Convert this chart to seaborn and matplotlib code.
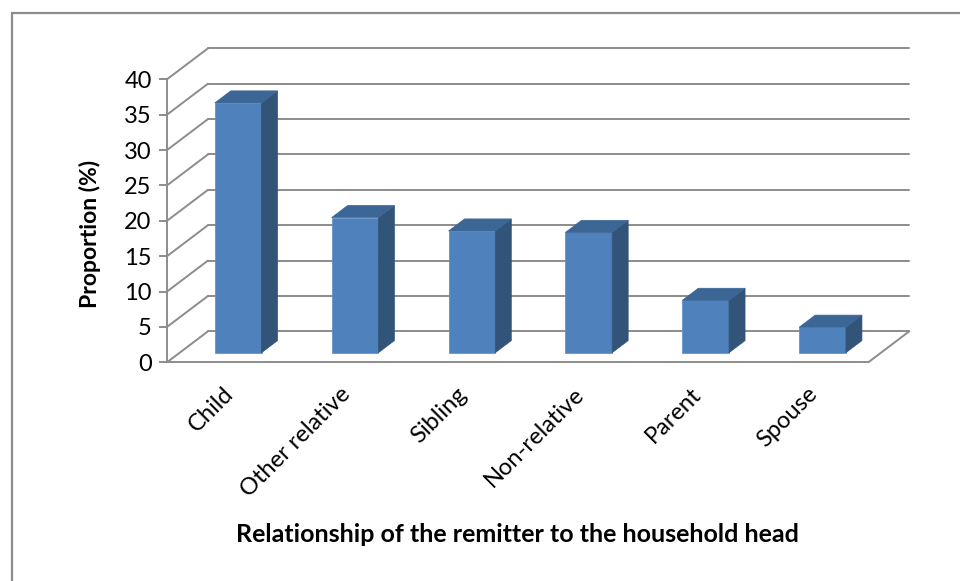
import matplotlib
matplotlib.use("Agg")
import matplotlib.pyplot as plt
import seaborn as sns
import pandas as pd
from matplotlib.patches import Polygon
from matplotlib.transforms import ScaledTranslation
from matplotlib.lines import Line2D

categories = ["Child", "Other relative", "Sibling", "Non-relative", "Parent", "Spouse"]
values = [35.3, 19.1, 17.2, 17.0, 7.4, 3.6]
y_ticks = [0, 5, 10, 15, 20, 25, 30, 35, 40]
x_title = "Relationship of the remitter to the household head"
y_title = "Proportion (%)"

sns.set_theme(style="white")
plt.rcParams['font.family'] = ['Lato', 'DejaVu Sans']

W, H = 960, 581
fig = plt.figure(figsize=(W / 100, H / 100), dpi=100)
fig.patch.set_facecolor("white")

# front plane of the 3D box (pixels)
x_left, x_right = 167.0, 868.3
y_zero, y_top = 362.3, 79.3
ax = fig.add_axes([x_left / W, 1 - y_zero / H, (x_right - x_left) / W, (y_zero - y_top) / H])
ax.set_facecolor("none")

df = pd.DataFrame({"cat": categories, "val": values})
sns.barplot(data=df, x="cat", y="val", color="#4F81BD", width=0.40,
            saturation=1, ax=ax, zorder=3, edgecolor="#5A8AC6", linewidth=0.5)
ax.set_xlim(-0.5, len(categories) - 0.5)
ax.set_ylim(y_ticks[0], y_ticks[-1])

# depth vector in data units
px_per_cat = (x_right - x_left) / len(categories)
px_per_val = (y_zero - y_top) / (y_ticks[-1] - y_ticks[0])
DX = 41.0 / px_per_cat
DY = 31.0 / px_per_val

grid_c = "#8C8C8C"
glw = 1.4
x0, x1 = ax.get_xlim()
for t in y_ticks:
    # back wall gridline
    ax.plot([x0 + DX, x1 + DX], [t + DY, t + DY], color=grid_c, lw=glw, clip_on=False, zorder=1)
    # left side wall gridline
    ax.plot([x0, x0 + DX], [t, t + DY], color=grid_c, lw=glw, clip_on=False, zorder=1)
# floor right edge
ax.plot([x1, x1 + DX], [0, DY], color=grid_c, lw=glw, clip_on=False, zorder=1)

# 3D bars: move the front face to its depth and add side and top faces
f_front = 0.31
f_depth = 0.39
side_c = "#335479"
top_c = "#3C6696"
for p in ax.patches:
    p.set_x(p.get_x() + f_front * DX)
    p.set_y(p.get_y() + f_front * DY)
    bx0 = p.get_x()
    bx1 = bx0 + p.get_width()
    by0 = p.get_y()
    by1 = by0 + p.get_height()
    ddx, ddy = f_depth * DX, f_depth * DY
    side = Polygon([(bx1, by0), (bx1 + ddx, by0 + ddy), (bx1 + ddx, by1 + ddy), (bx1, by1)],
                   closed=True, facecolor=side_c, edgecolor=side_c, lw=0.5, zorder=3, clip_on=False)
    top = Polygon([(bx0, by1), (bx1, by1), (bx1 + ddx, by1 + ddy), (bx0 + ddx, by1 + ddy)],
                  closed=True, facecolor=top_c, edgecolor=top_c, lw=0.5, zorder=3, clip_on=False)
    ax.add_patch(side)
    ax.add_patch(top)
    p.set_clip_on(False)

for s in ["top", "right"]:
    ax.spines[s].set_visible(False)
for s in ["left", "bottom"]:
    ax.spines[s].set_visible(True)
    ax.spines[s].set_color(grid_c)
    ax.spines[s].set_linewidth(glw)
    ax.spines[s].set_zorder(2)

ax.set_yticks(y_ticks)
ax.set_yticklabels([str(t) for t in y_ticks])
ax.tick_params(axis="y", left=True, length=6, width=glw, color=grid_c, pad=5,
               labelsize=17, labelcolor="black")
ax.tick_params(axis="x", bottom=False, length=0, pad=0, labelsize=17, labelcolor="black")
ax.set_xlabel("")
ax.set_ylabel("")
for lbl in ax.get_xticklabels():
    lbl.set_rotation(45)
    lbl.set_ha("right")
    lbl.set_va("top")
    lbl.set_rotation_mode("anchor")
    lbl.set_transform(lbl.get_transform() + ScaledTranslation(-3 / 100, -21 / 100, fig.dpi_scale_trans))

fig.text(517 / W, 1 - 535 / H, x_title, ha="center", va="center", fontsize=18,
         fontweight="bold", color="black")
fig.text(90 / W, 1 - 234 / H, y_title, ha="center", va="center", rotation=90,
         fontsize=16.5, fontweight="bold", color="black")

# outer chart border (left and top visible)
border_c = "#8C8C8C"
fig.add_artist(Line2D([11.5 / W, 11.5 / W], [0, 1 - 12.5 / H], transform=fig.transFigure,
                      color=border_c, lw=1.6))
fig.add_artist(Line2D([11.5 / W, 1], [1 - 12.5 / H, 1 - 12.5 / H], transform=fig.transFigure,
                      color=border_c, lw=1.6))

fig.savefig("out.png", dpi=100, facecolor="white")
